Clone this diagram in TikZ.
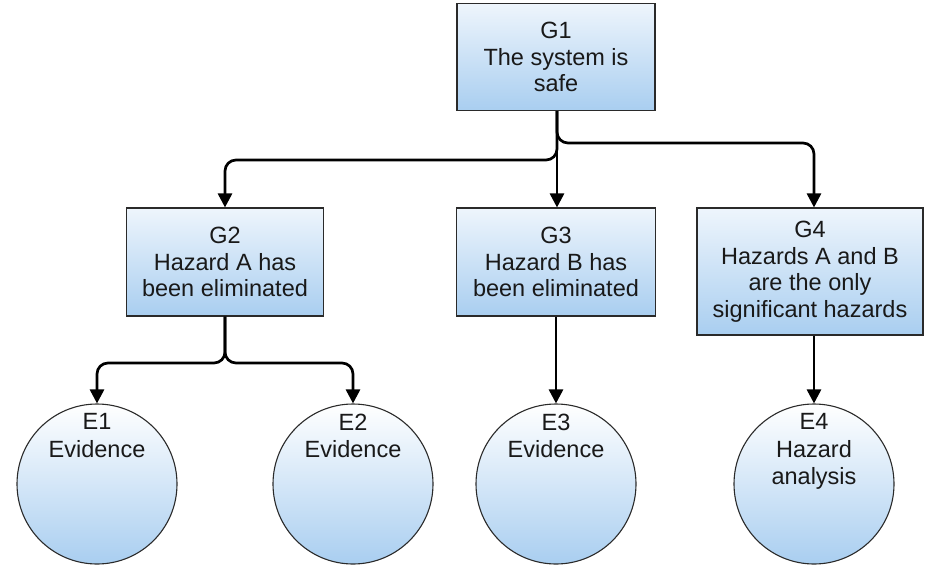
\documentclass[tikz,border=0pt]{standalone}
\usepackage{fontspec}
\setmainfont{Liberation Sans}
\usetikzlibrary{arrows.meta,shapes.geometric}
\definecolor{boxtop}{HTML}{EEF5FC}
\definecolor{boxbot}{HTML}{A9CEF0}
\definecolor{edge}{HTML}{2A2A2A}
\tikzset{
  goalbox/.style={draw=edge, line width=1.1pt, top color=boxtop, bottom color=boxbot,
    minimum width=198pt, align=center, inner sep=2pt,
    font=\fontsize{23.5}{26.5}\selectfont, text=black!90},
  evid/.style={draw=edge, line width=1.1pt, circle, minimum size=160pt, inner sep=0pt,
    top color=white, bottom color=boxbot},
  etext/.style={align=center, font=\fontsize{23.5}{27.5}\selectfont, text=black!90, inner sep=0pt},
  arr/.style={draw=black, line width=2.7pt, rounded corners=11pt,
    -{Triangle[length=14pt,width=14pt]}}
}
\begin{document}
\begin{tikzpicture}[x=1pt,y=-1pt]
\useasboundingbox (0,0) rectangle (926,565);
\node[goalbox, minimum height=107pt] (G1) at (556,57) {G1\\The system is\\safe};
\node[goalbox, minimum width=197pt, minimum height=108pt] (G2) at (225,262) {G2\\Hazard A has\\been eliminated};
\node[goalbox, minimum width=199pt, minimum height=108pt] (G3) at (556,262) {G3\\Hazard B has\\been eliminated};
\node[goalbox, minimum width=226pt, minimum height=127pt] (G4) at (810,271.5) {G4\\Hazards A and B\\are the only\\significant hazards};

\node[evid] (E1) at (97,484) {};
\node[evid] (E2) at (353,484) {};
\node[evid] (E3) at (556,484) {};
\node[evid] (E4) at (814,484) {};
\node[etext, anchor=north] (T1) at ([yshift=-10pt]E1.north) {E1\\Evidence};
\node[etext, anchor=north] (T2) at ([yshift=-10pt]E2.north) {E2\\Evidence};
\node[etext, anchor=north] (T3) at ([yshift=-10pt]E3.north) {E3\\Evidence};
\node[etext, anchor=north] (T4) at ([yshift=-10pt]E4.north) {E4\\Hazard\\analysis};

\coordinate (J1) at (557,160);
\coordinate (J2) at (557,143);
\coordinate (J3) at (225,363);

\draw[arr] (G1.south -| J1) -- (J1) -- (J1 -| G2.north) -- (G2.north);
\draw[arr] (G1.south -| J1) -- (G3.north -| J1);
\draw[arr] (G1.south -| J2) -- (J2) -- (J2 -| E4.north) -- (G4.north -| E4.north);
\draw[arr] (G2.south) -- (J3) -- (J3 -| E1.north) -- (E1.north);
\draw[arr] (G2.south) -- (J3) -- (J3 -| E2.north) -- (E2.north);
\draw[arr] (G3.south) -- (E3.north);
\draw[arr] (G4.south -| E4.north) -- (E4.north);
\end{tikzpicture}
\end{document}
